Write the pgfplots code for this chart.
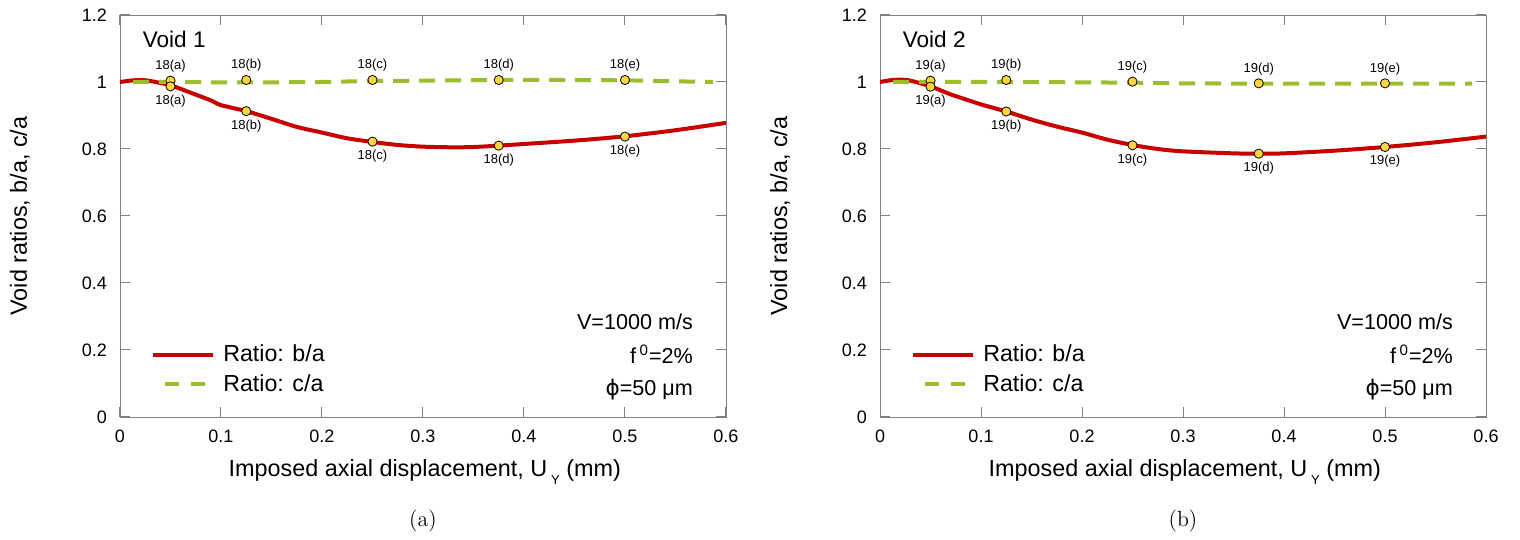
\documentclass[border=0pt]{standalone}
\usepackage{fontspec}
\newfontfamily\arial{Liberation Sans}
\newfontfamily\dejavu{DejaVu Sans}
\usepackage{pgfplots}
\pgfplotsset{compat=1.18}
\definecolor{redc}{RGB}{200,0,0}
\definecolor{greenc}{RGB}{155,190,45}
\definecolor{yellowc}{RGB}{255,214,60}
\tikzset{ptlab/.style={font=\arial\fontsize{6.5}{7}\selectfont, inner sep=0pt},
  annot/.style={anchor=east, font=\arial\fontsize{10.8}{12}\selectfont}}
\pgfplotsset{
 voidstyle/.style={
  scale only axis, width=303pt, height=201pt,
  xmin=0,xmax=0.6,ymin=0,ymax=1.2,
  xtick={0,0.1,0.2,0.3,0.4,0.5,0.6}, ytick={0,0.2,0.4,0.6,0.8,1,1.2},
  tick align=inside, major tick length=5pt,
  axis line style={black!50}, tick style={black!50, line width=0.5pt},
  /pgf/number format/assume math mode=true,
  /pgf/number format/fixed,
  tick label style={font=\arial\fontsize{9}{10}\selectfont},
  xticklabel style={yshift=-3pt},
  yticklabel style={xshift=-3pt},
  label style={font=\arial\fontsize{11.7}{13}\selectfont},
  xlabel={Imposed axial displacement, U\,\raisebox{-4pt}{\fontsize{6.5}{7}\selectfont Y} (mm)},
  ylabel={Void ratios, b/a, c/a},
  xlabel style={at={(axis description cs:0.503,-0.149)}, anchor=base},
  ylabel style={at={(axis description cs:-0.165,0.5)}, anchor=center},
  legend style={draw=none, fill=none, at={(axis description cs:0.05,0.191)}, anchor=north west,
    font=\arial\fontsize{11.6}{13}\selectfont, row sep=1pt, inner sep=0pt},
  legend cell align=left,
  legend image code/.code={\draw[#1] (0pt,0pt) -- (30pt,0pt); \path (32.3pt,0pt);},
 },
 redline/.style={redc, line width=2pt, smooth, tension=0.5, no marks},
 greenline/.style={greenc, line width=2pt, dash pattern=on 8pt off 5pt, no marks},
 ymarks/.style={only marks, mark=*, mark size=2.3pt, mark options={fill=yellowc, draw=black, line width=0.4pt}},
}
\begin{document}
\begin{tikzpicture}
\path[use as bounding box] (0,0) rectangle (760pt,270pt);
% ---------------- panel (a)
\begin{axis}[voidstyle, at={(60pt,61.5pt)}, anchor=south west]
\addlegendimage{redc, line width=2pt}
\addlegendentry{Ratio: b/a}
\addlegendimage{greenc, line width=2pt, dash pattern=on 7pt off 6pt, dash phase=7pt}
\addlegendentry{Ratio: c/a}
\addplot[redline, forget plot] coordinates {
(0,1.000) (0.01,1.004) (0.02,1.006) (0.03,1.003) (0.05,0.990) (0.07,0.968)
(0.09,0.945) (0.10,0.931) (0.125,0.913) (0.15,0.890) (0.175,0.866) (0.20,0.849)
(0.225,0.832) (0.25,0.821) (0.275,0.812) (0.30,0.807) (0.33,0.805) (0.35,0.806)
(0.375,0.810) (0.40,0.815) (0.45,0.825) (0.50,0.838) (0.55,0.856) (0.60,0.878)};
\addplot[greenline, forget plot] coordinates {
(0.013,1.000) (0.05,1.000) (0.1,0.999) (0.15,0.999) (0.2,1.000) (0.25,1.003)
(0.3,1.004) (0.375,1.006) (0.45,1.006) (0.5,1.005) (0.55,1.002) (0.587,1.000)};
\addplot[ymarks, forget plot] coordinates {
(0.05,1.004) (0.125,1.006) (0.25,1.006) (0.375,1.006) (0.5,1.006)};
\addplot[ymarks, forget plot] coordinates {
(0.05,0.987) (0.125,0.913) (0.25,0.822) (0.375,0.810) (0.5,0.837)};
\node[ptlab, yshift=7.3pt] at (axis cs:0.05,1.004) {18(a)};
\node[ptlab, yshift=7.3pt] at (axis cs:0.125,1.006) {18(b)};
\node[ptlab, yshift=7.3pt] at (axis cs:0.25,1.006) {18(c)};
\node[ptlab, yshift=7.3pt] at (axis cs:0.375,1.006) {18(d)};
\node[ptlab, yshift=7.3pt] at (axis cs:0.5,1.006) {18(e)};
\node[ptlab, yshift=-7.3pt] at (axis cs:0.05,0.987) {18(a)};
\node[ptlab, yshift=-7.3pt] at (axis cs:0.125,0.913) {18(b)};
\node[ptlab, yshift=-7.3pt] at (axis cs:0.25,0.822) {18(c)};
\node[ptlab, yshift=-7.3pt] at (axis cs:0.375,0.810) {18(d)};
\node[ptlab, yshift=-7.3pt] at (axis cs:0.5,0.837) {18(e)};
\node[anchor=west, font=\arial\fontsize{11.3}{13}\selectfont] at (axis description cs:0.026,0.938) {Void 1};
\node[annot] at (axis description cs:0.957,0.236) {V=1000 m/s};
\node[annot] at (axis description cs:0.957,0.156) {f\,\textsuperscript{0}=2\%};
\node[annot] at (axis description cs:0.957,0.068) {{\dejavu ϕ}=50 μm};
\end{axis}
% ---------------- panel (b)
\begin{axis}[voidstyle, at={(440pt,61.5pt)}, anchor=south west]
\addlegendimage{redc, line width=2pt}
\addlegendentry{Ratio: b/a}
\addlegendimage{greenc, line width=2pt, dash pattern=on 7pt off 6pt, dash phase=7pt}
\addlegendentry{Ratio: c/a}
\addplot[redline, forget plot] coordinates {
(0,1.000) (0.01,1.005) (0.02,1.007) (0.03,1.004) (0.05,0.987) (0.07,0.963)
(0.09,0.943) (0.10,0.933) (0.125,0.912) (0.15,0.888) (0.175,0.867) (0.20,0.849)
(0.225,0.828) (0.25,0.812) (0.275,0.800) (0.30,0.793) (0.35,0.787) (0.375,0.786)
(0.40,0.787) (0.45,0.795) (0.50,0.806) (0.55,0.820) (0.60,0.837)};
\addplot[greenline, forget plot] coordinates {
(0.013,1.000) (0.05,1.000) (0.125,1.000) (0.2,0.999) (0.25,0.998) (0.3,0.996)
(0.375,0.995) (0.5,0.995) (0.586,0.995)};
\addplot[ymarks, forget plot] coordinates {
(0.05,1.004) (0.125,1.006) (0.25,1.001) (0.375,0.996) (0.5,0.996)};
\addplot[ymarks, forget plot] coordinates {
(0.05,0.986) (0.125,0.912) (0.25,0.811) (0.375,0.786) (0.5,0.806)};
\node[ptlab, yshift=7.3pt] at (axis cs:0.05,1.004) {19(a)};
\node[ptlab, yshift=7.3pt] at (axis cs:0.125,1.006) {19(b)};
\node[ptlab, yshift=7.3pt] at (axis cs:0.25,1.001) {19(c)};
\node[ptlab, yshift=7.3pt] at (axis cs:0.375,0.996) {19(d)};
\node[ptlab, yshift=7.3pt] at (axis cs:0.5,0.996) {19(e)};
\node[ptlab, yshift=-7.3pt] at (axis cs:0.05,0.986) {19(a)};
\node[ptlab, yshift=-7.3pt] at (axis cs:0.125,0.912) {19(b)};
\node[ptlab, yshift=-7.3pt] at (axis cs:0.25,0.811) {19(c)};
\node[ptlab, yshift=-7.3pt] at (axis cs:0.375,0.786) {19(d)};
\node[ptlab, yshift=-7.3pt] at (axis cs:0.5,0.806) {19(e)};
\node[anchor=west, font=\arial\fontsize{11.3}{13}\selectfont] at (axis description cs:0.026,0.938) {Void 2};
\node[annot] at (axis description cs:0.957,0.236) {V=1000 m/s};
\node[annot] at (axis description cs:0.957,0.156) {f\,\textsuperscript{0}=2\%};
\node[annot] at (axis description cs:0.957,0.068) {{\dejavu ϕ}=50 μm};
\end{axis}
\node[font=\fontsize{11}{13}\selectfont] at (211.5pt,9.5pt) {(a)};
\node[font=\fontsize{11}{13}\selectfont] at (591.5pt,9.5pt) {(b)};
\end{tikzpicture}
\end{document}
